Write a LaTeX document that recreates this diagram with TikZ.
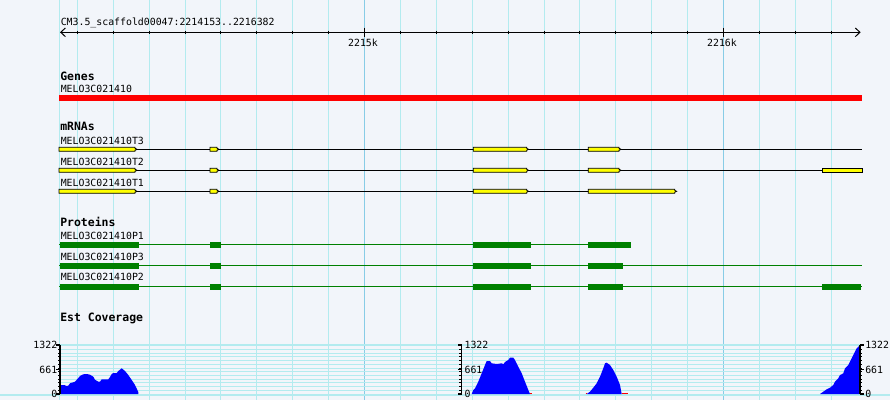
\documentclass[tikz,border=0pt]{standalone}
\usepackage{fontspec}
\setmonofont{DejaVu Sans Mono}
\usepackage{tikz}
\usetikzlibrary{arrows.meta}
\definecolor{bgcol}{HTML}{F2F5FA}
\definecolor{gridcol}{HTML}{B3EBEF}
\definecolor{majorcol}{HTML}{88CCE6}
\definecolor{exoncol}{HTML}{FFFF00}
\definecolor{protcol}{HTML}{008000}
\definecolor{covcol}{HTML}{0000FF}
\newcommand{\mexon}[3]{\filldraw[mrna] (#1,#3-2) -- (#2-2,#3-2) -- (#2-2,#3-1) -- (#2,#3) -- (#2-2,#3+1) -- (#2-2,#3+2) -- (#1,#3+2) -- cycle;}
\newcommand{\pexon}[3]{\fill[protcol] (#1,#3-3) rectangle (#2,#3+3);}

\begin{document}
\begin{tikzpicture}[x=0.75pt,y=-0.75pt,font=\ttfamily\fontsize{7.4}{8}\selectfont,
    lbl/.style={anchor=base west,inner sep=0pt},
    head/.style={anchor=base west,inner sep=0pt,font=\ttfamily\bfseries\fontsize{8.6}{9}\selectfont},
    gridline/.style={gridcol,line width=0.75pt},
    mrna/.style={draw=black,fill=exoncol,line width=0.6pt},
    barb/.tip={Straight Barb[length=3.5pt,width=6.5pt]}]
        \useasboundingbox (0,0) rectangle (890,400);
        \fill [bgcol] (0,0) rectangle (890,400);
        \draw [gridline] (59.5,0) -- (59.5,400);
        \foreach \k in {0,...,21}
            \draw [gridline] ({77.3+35.9*\k},0) -- ({77.3+35.9*\k},400);
        \draw [majorcol,line width=0.75pt] (364.5,0) -- (364.5,400);
        \draw [majorcol,line width=0.75pt] (723.5,0) -- (723.5,400);
        \foreach \v in {0,100,...,1300}
            \draw [gridline] (60,{394-\v/1322*49}) -- (860,{394-\v/1322*49});
        \draw [gridline,line width=1.5pt] (60,345) -- (860,345);
        \draw [gridline,line width=1.5pt] (0,394.5) -- (890,394.5);

        \node (SC) at (60.5,25) [lbl] {CM3.5\_scaffold00047:2214153..2216382};
        \coordinate (RL) at (60,32.3);
        \coordinate (RR) at (860.7,32.3);
        \draw [barb-barb,line width=0.75pt] (RL) -- (RR);
        \foreach \k in {0,...,21}
            \draw [line width=0.75pt] ({77.3+35.9*\k},30.5) -- ({77.3+35.9*\k},34.3);
        \draw [line width=0.75pt] (364.3,27.7) -- (364.3,36.7);
        \draw [line width=0.75pt] (723.3,27.7) -- (723.3,36.7);
        \node (K1) at (363,46) [anchor=base,inner sep=0pt] {2215k};
        \node (K2) at (722,46) [anchor=base,inner sep=0pt] {2216k};

        \node (GN) at (60,80) [head] {Genes};
        \node (G) at (60.5,92.3) [lbl] {MELO3C021410};
        \fill [red] (59,95) rectangle (862,101);

        \node (MR) at (60,130.7) [head] {mRNAs};
        \node (T3) at (60.5,144) [lbl] {MELO3C021410T3};
        \node (T2) at (60.5,165.3) [lbl] {MELO3C021410T2};
        \node (T1) at (60.5,186.3) [lbl] {MELO3C021410T1};
        \draw [line width=0.75pt] (59,149.3) -- (862,149.3);
        \draw [line width=0.75pt] (59,170.3) -- (862,170.3);
        \draw [line width=0.75pt] (59,191.3) -- (676,191.3);
        \foreach \y in {149.3,170.3,191.3} {
            \mexon{59}{137}{\y}
            \mexon{210}{219}{\y}
            \mexon{473.3}{528.7}{\y}
        }
        \mexon{588.3}{621}{149.3}
        \mexon{588.3}{621}{170.3}
        \mexon{588.3}{676.7}{191.3}
        \filldraw [mrna] (822.3,168.3) rectangle (862,172.3);

        \node (PR) at (60,226.7) [head] {Proteins};
        \node (P1) at (60.5,239.7) [lbl] {MELO3C021410P1};
        \node (P3) at (60.5,260.7) [lbl] {MELO3C021410P3};
        \node (P2) at (60.5,280.7) [lbl] {MELO3C021410P2};
        \draw [protcol,line width=0.9pt] (59,244.7) -- (631,244.7);
        \draw [protcol,line width=0.9pt] (59,265.7) -- (862,265.7);
        \draw [protcol,line width=0.9pt] (59,286.7) -- (862,286.7);
        \foreach \y in {244.7,265.7,286.7} {
            \pexon{60}{139}{\y}
            \pexon{210}{221}{\y}
            \pexon{473}{531}{\y}
        }
        \pexon{588}{631}{244.7}
        \pexon{588}{623}{265.7}
        \pexon{588}{623}{286.7}
        \pexon{822}{861}{286.7}

        \node (EC) at (60,321.7) [head] {Est Coverage};
        \fill [covcol] (60.7,394) -- (60.7,385) -- (65,385) -- (66,386) -- (68.3,385.7) -- (70,383.3)
            -- (75,381.7) -- (78.3,378) -- (80,376) -- (83.3,374.3) -- (86.7,374) -- (90,374.7)
            -- (93.3,376.7) -- (95,379.7) -- (98.3,381.7) -- (100,381.7) -- (101.7,379.3) -- (108.3,379.3)
            -- (110,377) -- (111.7,374) -- (113.3,373) -- (116.7,373) -- (118.3,371) -- (121.7,368.3)
            -- (125,371) -- (128.3,375) -- (131.7,380) -- (135,385) -- (138.3,392) -- (138.3,394) -- cycle;
        \fill [covcol] (471.7,394) -- (473.3,390) -- (475,388.3) -- (478.3,381.7) -- (481.7,373.3)
            -- (485,365) -- (486.7,361) -- (490,361) -- (491.7,363.3) -- (496.7,364) -- (501.7,363.3)
            -- (503.3,364.3) -- (505,362) -- (508.3,360) -- (510,357.7) -- (513.3,357.7) -- (515,360)
            -- (518.3,366.7) -- (521.7,373.3) -- (525,381.7) -- (528.3,390) -- (530,394) -- cycle;
        \fill [covcol] (586.7,394) -- (590,391.7) -- (593.3,387.7) -- (596.7,383.3) -- (600,376.7)
            -- (603.3,368.3) -- (605,363.3) -- (606.7,362.7) -- (610,365) -- (613.3,370) -- (616.7,376.7)
            -- (620,385) -- (621.7,394) -- cycle;
        \fill [covcol] (820,394) -- (823.3,391.7) -- (826.7,389.3) -- (830,387.7) -- (833.3,385)
            -- (835,381.7) -- (838.3,378.3) -- (840,375) -- (841.7,374.3) -- (843.3,373.3) -- (845,368.3)
            -- (846.7,366.7) -- (848.3,365) -- (850,361.7) -- (851.7,358.3) -- (853.3,355) -- (855,351.7)
            -- (856.7,348.3) -- (858.3,346.7) -- (860,345) -- (860,394) -- cycle;
        \draw [red,line width=0.9pt] (530,393.6) -- (531.7,393.6);
        \draw [red,line width=0.9pt] (585.7,393.6) -- (587.3,393.6);
        \draw [red,line width=0.9pt] (622,393.6) -- (628,393.6);

        \foreach \ax/\d in {60/-1,461.7/-1,860/1} {
            \draw [line width=0.9pt] (\ax,345) -- (\ax,394);
            \foreach \v in {0,100,...,1300}
                \draw [line width=0.75pt] (\ax,{394-\v/1322*49}) -- ({\ax+2.3*\d},{394-\v/1322*49});
            \foreach \t in {345,369.5,394}
                \draw [line width=0.9pt] (\ax,\t) -- ({\ax+4*\d},\t);
        }
        \node (L1) at (57.5,348.3) [anchor=base east,inner sep=0pt] {1322};
        \node (L2) at (57.5,373.3) [anchor=base east,inner sep=0pt] {661};
        \node (L3) at (57.5,397.7) [anchor=base east,inner sep=0pt] {0};
        \node (M1) at (464.3,348.3) [lbl] {1322};
        \node (M2) at (464.3,373.3) [lbl] {661};
        \node (M3) at (464.3,397.7) [lbl] {0};
        \node (R1) at (865,348.3) [lbl] {1322};
        \node (R2) at (865,373.3) [lbl] {661};
        \node (R3) at (865,397.7) [lbl] {0};
      \end{tikzpicture}
\end{document}
